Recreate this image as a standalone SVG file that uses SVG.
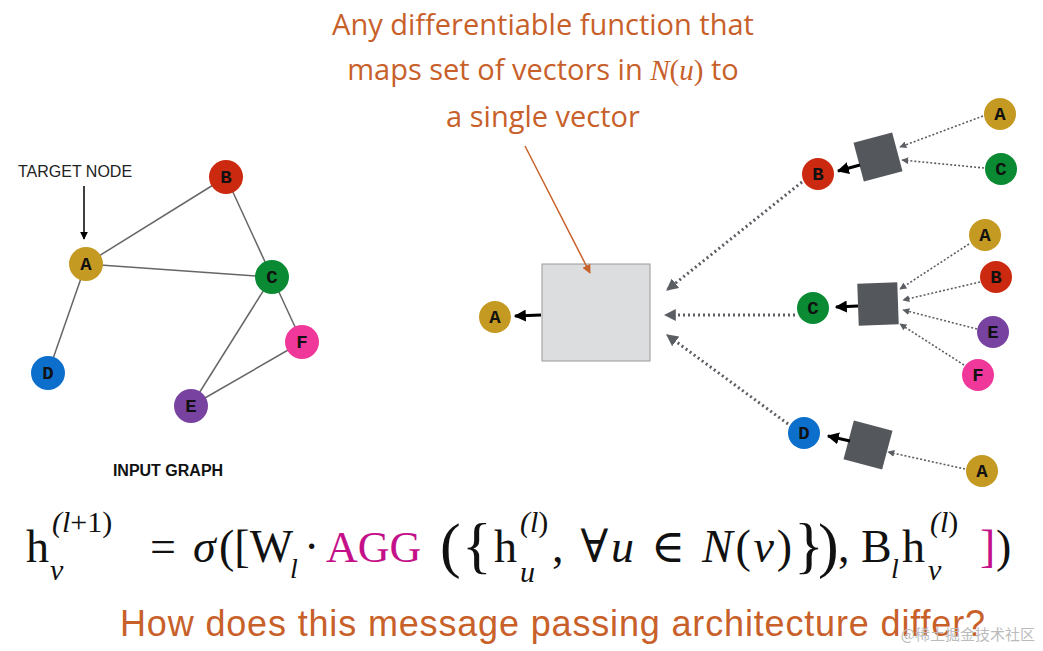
<svg xmlns="http://www.w3.org/2000/svg" width="1043" height="651" viewBox="0 0 1043 651">
<style>
.n text{font-family:"Liberation Mono","Courier New",monospace;font-weight:bold;font-size:19px;text-anchor:middle;fill:#111}
.e{stroke:#666;stroke-width:1.5}
.dot{stroke:#5b5e63;stroke-width:3;stroke-dasharray:2 3;fill:none}
.thin{stroke:#5b5e63;stroke-width:1.6;stroke-dasharray:2 2;fill:none}
.blk{stroke:#000;stroke-width:3}
.sb{fill:#54575c}
.m{font-family:"Liberation Serif","DejaVu Serif",serif;font-size:46px}
.mi{font-style:italic}
.o{fill:#c8602a;font-family:"Open Sans","Liberation Sans",sans-serif;font-size:29px;text-anchor:middle}
</style>
<defs>
<marker id="ag" viewBox="0 0 10 10" refX="9" refY="5" markerWidth="4" markerHeight="4" orient="auto"><path d="M0,0L10,5L0,10z" fill="#5b5e63"/></marker>
<marker id="ag2" viewBox="0 0 10 10" refX="9" refY="5" markerWidth="7" markerHeight="7" orient="auto" markerUnits="userSpaceOnUse"><path d="M0,0L10,5L0,10z" fill="#5b5e63"/></marker>
<marker id="ab" viewBox="0 0 10 10" refX="9" refY="5" markerWidth="4" markerHeight="4" orient="auto"><path d="M0,0L10,5L0,10z" fill="#000"/></marker>
<marker id="ao" viewBox="0 0 10 10" refX="9" refY="5" markerWidth="9" markerHeight="9" orient="auto" markerUnits="userSpaceOnUse"><path d="M0,0L10,5L0,10z" fill="#c8602a"/></marker>
<marker id="at" viewBox="0 0 10 10" refX="9" refY="5" markerWidth="8" markerHeight="8" orient="auto" markerUnits="userSpaceOnUse"><path d="M0,0L10,5L0,10z" fill="#000"/></marker>
</defs>
<rect width="1043" height="651" fill="#fff"/>
<g id="aggregator"><rect x="542" y="264" width="108" height="97" fill="#dcdddf" stroke="#999"/></g>
<g id="agg1"><rect class="sb" x="-20" y="-20" width="40" height="40" transform="translate(878,157) rotate(-15)"/></g>
<g id="agg2"><rect class="sb" x="-20" y="-21" width="40" height="42" transform="translate(878,304) rotate(-2)"/></g>
<g id="agg3"><rect class="sb" x="-20" y="-20" width="40" height="40" transform="translate(868,445) rotate(15)"/></g>
<g id="connectors">
<line class="e" x1="86" y1="264" x2="226" y2="177"/>
<line class="e" x1="86" y1="264" x2="272" y2="277"/>
<line class="e" x1="226" y1="177" x2="272" y2="277"/>
<line class="e" x1="86" y1="264" x2="48" y2="373"/>
<line class="e" x1="272" y1="277" x2="191" y2="406"/>
<line class="e" x1="272" y1="277" x2="302" y2="342"/>
<line class="e" x1="302" y1="342" x2="191" y2="406"/>
<line x1="84" y1="186" x2="84" y2="239" stroke="#000" stroke-width="1.5" marker-end="url(#at)"/>
<line x1="525" y1="146" x2="590" y2="273" stroke="#c8602a" stroke-width="1.5" marker-end="url(#ao)"/>
<line class="blk" x1="541" y1="315" x2="515" y2="316" marker-end="url(#ab)"/>
<line class="dot" x1="802" y1="182" x2="667" y2="290" marker-end="url(#ag)"/>
<line class="dot" x1="795" y1="315" x2="665" y2="315" marker-end="url(#ag)"/>
<line class="dot" x1="788" y1="424" x2="667" y2="335" marker-end="url(#ag)"/>
<line class="blk" x1="860" y1="165" x2="838" y2="171" marker-end="url(#ab)"/>
<line class="blk" x1="858" y1="306" x2="836" y2="307" marker-end="url(#ab)"/>
<line class="blk" x1="850" y1="441" x2="828" y2="436" marker-end="url(#ab)"/>
<line class="thin" x1="983" y1="116" x2="900" y2="147" marker-end="url(#ag2)"/>
<line class="thin" x1="984" y1="168" x2="902" y2="160" marker-end="url(#ag2)"/>
<line class="thin" x1="969" y1="244" x2="900" y2="289" marker-end="url(#ag2)"/>
<line class="thin" x1="980" y1="282" x2="903" y2="300" marker-end="url(#ag2)"/>
<line class="thin" x1="977" y1="329" x2="903" y2="310" marker-end="url(#ag2)"/>
<line class="thin" x1="964" y1="365" x2="900" y2="324" marker-end="url(#ag2)"/>
<line class="thin" x1="965" y1="469" x2="888" y2="452" marker-end="url(#ag2)"/>
</g>
<g id="input-graph" class="n" font-family="Liberation Mono, monospace">
<g id="gB"><circle cx="226" cy="177" r="17" fill="#cc2a10"/><text x="226" y="183">B</text></g>
<g id="gA"><circle cx="86" cy="264" r="17" fill="#c59a22"/><text x="86" y="270">A</text></g>
<g id="gC"><circle cx="272" cy="277" r="17" fill="#0a8a33"/><text x="272" y="283">C</text></g>
<g id="gF"><circle cx="302" cy="342" r="17" fill="#f0389a"/><text x="302" y="348">F</text></g>
<g id="gD"><circle cx="48" cy="373" r="17" fill="#0d6fcc"/><text x="48" y="379">D</text></g>
<g id="gE"><circle cx="191" cy="406" r="17" fill="#7842a0"/><text x="191" y="412">E</text></g>
</g>
<text x="18" y="177" font-family="Liberation Sans,sans-serif" font-size="16" fill="#222">TARGET NODE</text>
<text x="168" y="476" font-family="Liberation Sans,sans-serif" font-size="16" font-weight="bold" text-anchor="middle" fill="#111">INPUT GRAPH</text>
<g id="tree" class="n" font-family="Liberation Mono, monospace">
<g id="tA"><circle cx="495" cy="317" r="16" fill="#c59a22"/><text x="495" y="323">A</text></g>
<g id="tB"><circle cx="818" cy="174" r="16" fill="#cc2a10"/><text x="818" y="180">B</text></g>
<g id="tC"><circle cx="813" cy="308" r="16" fill="#0a8a33"/><text x="813" y="314">C</text></g>
<g id="tD"><circle cx="804" cy="433" r="16" fill="#0d6fcc"/><text x="804" y="439">D</text></g>
<g id="tBA"><circle cx="1000" cy="114" r="16" fill="#c59a22"/><text x="1000" y="120">A</text></g>
<g id="tBC"><circle cx="1001" cy="169" r="16" fill="#0a8a33"/><text x="1001" y="175">C</text></g>
<g id="tCA"><circle cx="985" cy="235" r="16" fill="#c59a22"/><text x="985" y="241">A</text></g>
<g id="tCB"><circle cx="996" cy="277" r="16" fill="#cc2a10"/><text x="996" y="283">B</text></g>
<g id="tCE"><circle cx="993" cy="332" r="16" fill="#7842a0"/><text x="993" y="338">E</text></g>
<g id="tCF"><circle cx="978" cy="375" r="16" fill="#f0389a"/><text x="978" y="381">F</text></g>
<g id="tDA"><circle cx="982" cy="471" r="16" fill="#c59a22"/><text x="982" y="477">A</text></g>
</g>
<text class="o" x="543" y="35">Any differentiable function that</text>
<text class="o" x="543" y="80">maps set of vectors in <tspan font-family="Liberation Serif,serif" font-style="italic">N</tspan><tspan font-family="Liberation Serif,serif">(</tspan><tspan font-family="Liberation Serif,serif" font-style="italic">u</tspan><tspan font-family="Liberation Serif,serif">)</tspan> to</text>
<text class="o" x="543" y="127">a single vector</text>
<g id="formula" class="m" fill="#111">
<text x="26" y="562">h</text>
<text x="50" y="580" font-size="30" class="mi">v</text>
<text x="52" y="532" font-size="30"><tspan class="mi">(l</tspan>+1)</text>
<text x="150" y="562">=</text>
<text x="193" y="562" class="mi">σ</text>
<text x="219" y="562">([W</text>
<text x="290" y="578" font-size="28" class="mi">l</text>
<text x="304" y="562">·</text>
<text x="326" y="562" fill="#c4118a" font-size="44">AGG</text>
<text x="440" y="566" font-size="62">(</text>
<text x="462" y="566" font-size="62">{</text>
<text x="494" y="562">h</text>
<text x="520" y="582" font-size="30" class="mi">u</text>
<text x="520" y="532" font-size="30"><tspan class="mi">(l</tspan>)</text>
<text x="552" y="562" textLength="240">, ∀<tspan class="mi">u</tspan> ∈ <tspan class="mi">N</tspan>(<tspan class="mi">v</tspan>)</text>
<text x="794" y="566" font-size="62">}</text>
<text x="818" y="566" font-size="62">)</text>
<text x="838" y="562">, B</text>
<text x="891" y="578" font-size="28" class="mi">l</text>
<text x="902" y="562">h</text>
<text x="928" y="580" font-size="30" class="mi">v</text>
<text x="930" y="532" font-size="30"><tspan class="mi">(l</tspan>)</text>
<text x="980" y="562" fill="#c4118a">]</text>
<text x="996" y="562">)</text>
</g>
<text x="120" y="636" font-family="Liberation Sans,Arial,sans-serif" font-size="36" fill="#c8602a" textLength="865">How does this message passing architecture differ?</text>
<text x="1035" y="640" font-family="Noto Sans CJK SC,sans-serif" font-size="15" fill="#bbb" text-anchor="end">@稀土掘金技术社区</text>
</svg>
